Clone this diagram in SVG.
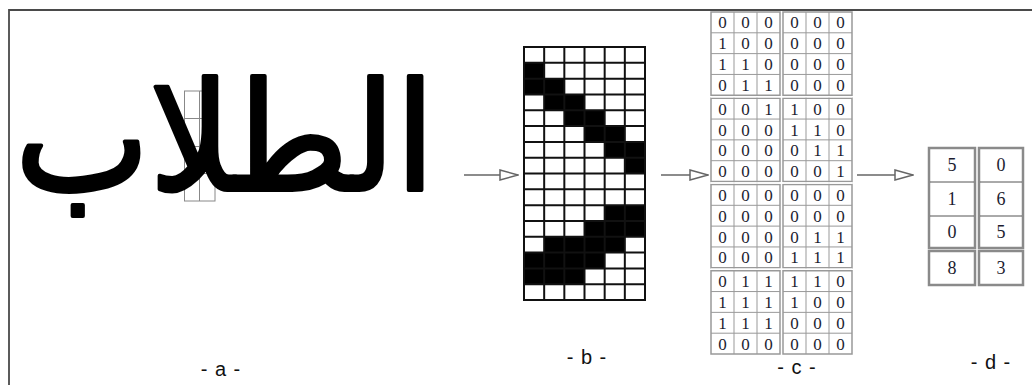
<svg xmlns="http://www.w3.org/2000/svg" width="1032" height="385" viewBox="0 0 1032 385">
<defs>
<style>
.frame{stroke:#4a4a4a;stroke-width:1.8;fill:none}
.conn{stroke:#666;stroke-width:1.5;fill:none}
.bl{stroke:#111;stroke-width:2}
.blk{fill:#000}
.cb{fill:#fff;stroke:#999;stroke-width:1.5}
.cl{stroke:#999;stroke-width:1}
.dig{font-family:"Liberation Serif",serif;font-size:17px;fill:#1c1c30;text-anchor:middle}
.dd{font-family:"Liberation Serif",serif;font-size:18px;fill:#1c1c30;text-anchor:middle}
.db{fill:#fff;stroke:#8a8a8a;stroke-width:2.5}
.dl{stroke:#555;stroke-width:1}
.lab{font-family:"Liberation Sans",sans-serif;font-size:20px;fill:#111;text-anchor:middle;letter-spacing:1px}
</style>
<marker id="tri" markerUnits="userSpaceOnUse" markerWidth="20" markerHeight="14" refX="19" refY="7" orient="auto">
<path d="M1,2 L19,7 L1,12 Z" fill="#fff" stroke="#666" stroke-width="1.5"/>
</marker>
</defs>
<rect width="1032" height="385" fill="#fff"/>
<path class="frame" d="M9,400 L9,10 L1040,10"/>

<g id="node-a">
<g stroke="#888" stroke-width="1" fill="none">
<rect x="184.5" y="91" width="30.5" height="110"/>
<line x1="199.5" y1="91" x2="199.5" y2="201"/>
<line x1="184.5" y1="118.5" x2="215" y2="118.5"/>
<line x1="184.5" y1="146.5" x2="215" y2="146.5"/>
<line x1="184.5" y1="173.5" x2="215" y2="173.5"/>
</g>
<text x="225" y="190" font-family="DejaVu Sans,sans-serif" font-size="150" text-anchor="middle" textLength="420" lengthAdjust="spacingAndGlyphs" fill="#000" stroke="#000" stroke-width="4" stroke-linejoin="round">الطلاب</text>
</g>

<g id="node-b">
<rect x="524" y="47" width="121" height="253" fill="#fff"/>
<g class="blk">
<rect x="524" y="62.81" width="20.17" height="15.82"/>
<rect x="524" y="78.63" width="40.33" height="15.82"/>
<rect x="544.17" y="94.44" width="40.33" height="15.82"/>
<rect x="564.33" y="110.25" width="40.33" height="15.82"/>
<rect x="584.5" y="126.06" width="40.33" height="15.82"/>
<rect x="604.67" y="141.88" width="40.33" height="15.82"/>
<rect x="624.83" y="157.69" width="20.17" height="15.82"/>
<rect x="604.67" y="205.13" width="40.33" height="15.82"/>
<rect x="584.5" y="220.94" width="60.5" height="15.82"/>
<rect x="544.17" y="236.75" width="80.67" height="15.82"/>
<rect x="524" y="252.56" width="80.67" height="15.82"/>
<rect x="524" y="268.38" width="60.5" height="15.82"/>
</g>
<g class="bl">
<line x1="524" y1="46" x2="524" y2="301"/>
<line x1="544.17" y1="46" x2="544.17" y2="301"/>
<line x1="564.33" y1="46" x2="564.33" y2="301"/>
<line x1="584.5" y1="46" x2="584.5" y2="301"/>
<line x1="604.67" y1="46" x2="604.67" y2="301"/>
<line x1="624.83" y1="46" x2="624.83" y2="301"/>
<line x1="645" y1="46" x2="645" y2="301"/>
<line x1="523" y1="47" x2="646" y2="47"/>
<line x1="523" y1="62.81" x2="646" y2="62.81"/>
<line x1="523" y1="78.63" x2="646" y2="78.63"/>
<line x1="523" y1="94.44" x2="646" y2="94.44"/>
<line x1="523" y1="110.25" x2="646" y2="110.25"/>
<line x1="523" y1="126.06" x2="646" y2="126.06"/>
<line x1="523" y1="141.88" x2="646" y2="141.88"/>
<line x1="523" y1="157.69" x2="646" y2="157.69"/>
<line x1="523" y1="173.5" x2="646" y2="173.5"/>
<line x1="523" y1="189.31" x2="646" y2="189.31"/>
<line x1="523" y1="205.13" x2="646" y2="205.13"/>
<line x1="523" y1="220.94" x2="646" y2="220.94"/>
<line x1="523" y1="236.75" x2="646" y2="236.75"/>
<line x1="523" y1="252.56" x2="646" y2="252.56"/>
<line x1="523" y1="268.38" x2="646" y2="268.38"/>
<line x1="523" y1="284.19" x2="646" y2="284.19"/>
<line x1="523" y1="300" x2="646" y2="300"/>
</g>
</g>

<g id="node-c">
<g>
<rect class="cb" x="711" y="12" width="69" height="83.25"/>
<rect class="cb" x="783" y="12" width="69" height="83.25"/>
<rect class="cb" x="711" y="98.25" width="69" height="83.25"/>
<rect class="cb" x="783" y="98.25" width="69" height="83.25"/>
<rect class="cb" x="711" y="184.5" width="69" height="83.25"/>
<rect class="cb" x="783" y="184.5" width="69" height="83.25"/>
<rect class="cb" x="711" y="270.75" width="69" height="83.25"/>
<rect class="cb" x="783" y="270.75" width="69" height="83.25"/>
</g>
<g class="cl">
<path d="M734,12V354M757,12V354M806,12V354M829,12V354"/>
<path d="M711,32.81H780M711,53.62H780M711,74.44H780M783,32.81H852M783,53.62H852M783,74.44H852M711,119.06H780M711,139.87H780M711,160.69H780M783,119.06H852M783,139.87H852M783,160.69H852M711,205.31H780M711,226.12H780M711,246.94H780M783,205.31H852M783,226.12H852M783,246.94H852M711,291.56H780M711,312.37H780M711,333.19H780M783,291.56H852M783,312.37H852M783,333.19H852"/>
<path d="M711,96.75H852M711,183H852M711,269.25H852" stroke="#fff" stroke-width="1.5"/>
</g>
<g class="dig">
<text x="722.5 745.5 768.5 794.5 817.5 840.5" y="28.4">000000</text>
<text x="722.5 745.5 768.5 794.5 817.5 840.5" y="49.2">100000</text>
<text x="722.5 745.5 768.5 794.5 817.5 840.5" y="70">110000</text>
<text x="722.5 745.5 768.5 794.5 817.5 840.5" y="90.8">011000</text>
<text x="722.5 745.5 768.5 794.5 817.5 840.5" y="114.6">001100</text>
<text x="722.5 745.5 768.5 794.5 817.5 840.5" y="135.5">000110</text>
<text x="722.5 745.5 768.5 794.5 817.5 840.5" y="156.3">000011</text>
<text x="722.5 745.5 768.5 794.5 817.5 840.5" y="177.1">000001</text>
<text x="722.5 745.5 768.5 794.5 817.5 840.5" y="200.9">000000</text>
<text x="722.5 745.5 768.5 794.5 817.5 840.5" y="221.7">000000</text>
<text x="722.5 745.5 768.5 794.5 817.5 840.5" y="242.5">000011</text>
<text x="722.5 745.5 768.5 794.5 817.5 840.5" y="263.3">000111</text>
<text x="722.5 745.5 768.5 794.5 817.5 840.5" y="287.1">011110</text>
<text x="722.5 745.5 768.5 794.5 817.5 840.5" y="308">111100</text>
<text x="722.5 745.5 768.5 794.5 817.5 840.5" y="328.8">111000</text>
<text x="722.5 745.5 768.5 794.5 817.5 840.5" y="349.6">000000</text>
</g>
</g>

<g id="node-d">
<rect class="db" x="929" y="148" width="46" height="100"/>
<rect class="db" x="979" y="148" width="44" height="100"/>
<rect class="db" x="929" y="251" width="46" height="34"/>
<rect class="db" x="979" y="251" width="44" height="34"/>
<path class="dl" d="M930,182H974M930,216H974M980,182H1022M980,216H1022"/>
<g class="dd">
<text x="952 1001" y="171">50</text>
<text x="952 1001" y="205">16</text>
<text x="952 1001" y="238">05</text>
<text x="952 1001" y="274">83</text>
</g>
</g>

<g id="connectors">
<line class="conn" x1="464" y1="175" x2="518" y2="175" marker-end="url(#tri)"/>
<line class="conn" x1="661" y1="175" x2="708" y2="175" marker-end="url(#tri)"/>
<line class="conn" x1="857" y1="175" x2="913" y2="175" marker-end="url(#tri)"/>
</g>

<g id="labels">
<text class="lab" x="221" y="376">- a -</text>
<text class="lab" x="587" y="364">- b -</text>
<text class="lab" x="797" y="374">- c -</text>
<text class="lab" x="991" y="369">- d -</text>
</g>
</svg>
